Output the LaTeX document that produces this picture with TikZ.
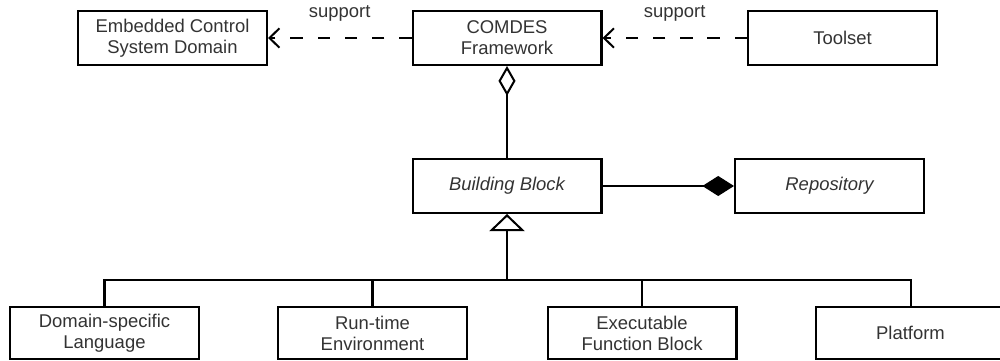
\documentclass[tikz,border=0pt]{standalone}
\usepackage{fontspec}
\setmainfont{Liberation Sans}
\usetikzlibrary{arrows.meta}
\definecolor{txtgray}{HTML}{333333}
\begin{document}
\begin{tikzpicture}[x=0.02cm, y=-0.02cm,
    umlbox/.style={draw, line width=1.15pt, minimum width=3.78cm, minimum height=1.08cm,
        align=center, inner sep=0pt, text=txtgray, font=\fontsize{10.5}{12}\selectfont},
    lowbox/.style={umlbox, minimum height=1.04cm},
    dep/.style={line width=1.15pt, dash pattern=on 7pt off 8.5pt,
        -{Straight Barb[length=5.7pt, width=11pt, line width=1.15pt]}},
    lbl/.style={text=txtgray, font=\fontsize{10.5}{12}\selectfont}]
    \useasboundingbox (0,0) rectangle (1000,361);
    % top row
    \node[umlbox] (domain) at (172.5, 38) {Embedded Control\\System Domain};
    \node[umlbox] (comdes) at (507, 38) {COMDES\\Framework};
    \node[umlbox] (toolset) at (842.5, 38) {Toolset};
    
    % middle row
    \node[umlbox] (block) at (507, 186) {\itshape Building Block};
    \node[umlbox] (repo) at (829.5, 186) {\itshape Repository};
    
    % bottom row
    \node[lowbox] (dsl) at (104.5, 333) {Domain-specific\\Language};
    \node[lowbox] (runtime) at (372.5, 333) {Run-time\\Environment};
    \node[lowbox] (exec) at (642, 333) {Executable\\Function Block};
    \node[lowbox] (platform) at (910.5, 333) {Platform};
    \coordinate (bus) at (507, 280);
    
    \draw[dep] (comdes) -- node[lbl, midway, yshift=0.5cm] (sup1) {support} (domain);
    \draw[dep] (toolset) -- node[lbl, midway, yshift=0.5cm] (sup2) {support} (comdes);
    
    \draw[line width=1.15pt, {Diamond[open, length=17pt, width=9.7pt, line width=1.15pt]}-] (comdes) -- (block);
    \draw[line width=1.15pt, -{Diamond[length=18pt, width=11.4pt]}] (block) -- (repo);
    
    \draw[line width=1.15pt] (dsl.north) |- (bus) -| (platform.north);
    \draw[line width=1.15pt] (runtime.north) |- (bus);
    \draw[line width=1.15pt] (exec.north) |- (bus);
    \draw[line width=1.15pt, -{Triangle[open, length=9.7pt, width=20pt, line width=1.15pt]}] (bus) -- (block);
\end{tikzpicture}
\end{document}
